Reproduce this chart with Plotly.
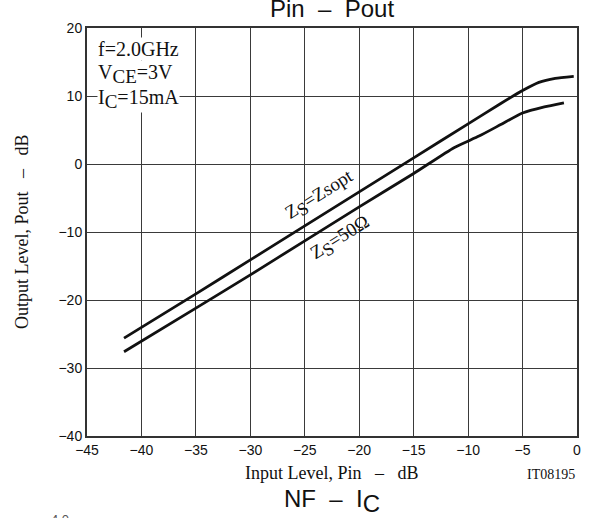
import plotly.graph_objects as go

# Data
pin_zsopt = [-41.6, -35, -30, -25, -20, -15, -10, -7, -5, -3.5, -2, -0.3]
pout_zsopt = [-25.6, -19.1, -14.1, -9.1, -4.1, 0.9, 5.9, 8.9, 10.8, 12.0, 12.6, 12.9]

pin_z50 = [-41.6, -35, -30, -25, -20, -15, -11.3, -9, -7, -5, -3, -1.2]
pout_z50 = [-27.6, -21.2, -16.3, -11.3, -6.3, -1.4, 2.4, 4.1, 5.8, 7.5, 8.4, 9.0]

x_ticks = [-45, -40, -35, -30, -25, -20, -15, -10, -5, 0]
y_ticks = [-40, -30, -20, -10, 0, 10, 20]

SERIF = "Liberation Serif, Times New Roman, serif"
SANS = "Liberation Sans, Arial, sans-serif"
INK = "#111111"


def sub(s, size):
    return "<sub><span style='font-size:%dpx'>%s</span></sub>" % (size, s)


fig = go.Figure()
for xs, ys in [(pin_zsopt, pout_zsopt), (pin_z50, pout_z50)]:
    fig.add_trace(go.Scatter(x=xs, y=ys, mode="lines",
                             line=dict(color=INK, width=2.8, shape="spline", smoothing=0.5),
                             showlegend=False, hoverinfo="skip"))

axis_common = dict(showgrid=True, gridcolor="#3a3a3a", gridwidth=1,
                   showline=True, linecolor="#333333", linewidth=2, mirror=True,
                   ticks="", zeroline=False, automargin=False,
                   tickfont=dict(family=SANS, size=14, color=INK))

fig.update_xaxes(range=[-45, 0], tickvals=x_ticks, ticklabelstandoff=0, **axis_common)
fig.update_yaxes(range=[-40, 20], tickvals=y_ticks, **axis_common)

info_lines = ["f=2.0GHz", "V" + sub("CE", 19) + "=3V", "I" + sub("C", 19) + "=15mA"]
annotations = []
for i, t in enumerate(info_lines):
    annotations.append(dict(text=t, xref="x", yref="y", x=-44.1, y=20, yshift=-21 - 25 * i,
                            xanchor="left", yanchor="middle", align="left", showarrow=False,
                            bgcolor="white", borderpad=0,
                            font=dict(family=SERIF, size=20, color=INK)))

annotations += [
    dict(text="Z" + sub("S", 18) + "=Zsopt", xref="x", yref="y", x=-23.6, y=-4.7,
         textangle=-32, showarrow=False,
         font=dict(family=SERIF, size=19, color=INK)),
    dict(text="Z" + sub("S", 18) + "=50Ω", xref="x", yref="y", x=-21.7, y=-11.0,
         textangle=-32, showarrow=False,
         font=dict(family=SERIF, size=19, color=INK)),
    dict(text="Output Level, Pout   –   dB", xref="paper", yref="paper", x=0, y=0.5,
         xshift=-65, textangle=-90, xanchor="center", yanchor="middle", showarrow=False,
         font=dict(family=SERIF, size=18, color=INK)),
    dict(text="Input Level, Pin   –   dB", xref="paper", yref="paper", x=0.5, y=0,
         yshift=-37, xanchor="center", yanchor="middle", showarrow=False,
         font=dict(family=SERIF, size=18, color=INK)),
    dict(text="Pin  –  Pout", xref="paper", yref="paper", x=0.5, y=1.0, yshift=4,
         xanchor="center", yanchor="bottom", showarrow=False,
         font=dict(family=SANS, size=24, color=INK)),
    dict(text="IT08195", xref="paper", yref="paper", x=1.0, y=0, yshift=-38,
         xanchor="right", yanchor="middle", showarrow=False,
         font=dict(family=SERIF, size=14, color=INK)),
    dict(text="NF  –  I" + sub("C", 24), xref="paper", yref="paper", x=0.5, y=0, yshift=-47,
         xanchor="center", yanchor="top", showarrow=False,
         font=dict(family=SANS, size=24, color=INK)),
    dict(text="4.0", xref="paper", yref="paper", x=0, y=0, xshift=-27, yshift=-74,
         xanchor="center", yanchor="top", showarrow=False,
         font=dict(family=SANS, size=13, color="#555555")),
]

fig.update_layout(width=592, height=518, margin=dict(l=87, r=15, t=28, b=82),
                  paper_bgcolor="white", plot_bgcolor="white",
                  annotations=annotations)

fig.write_html("out.html", config={"displayModeBar": False, "staticPlot": True},
               post_script="document.body.style.margin='0';document.body.style.overflow='hidden';")
